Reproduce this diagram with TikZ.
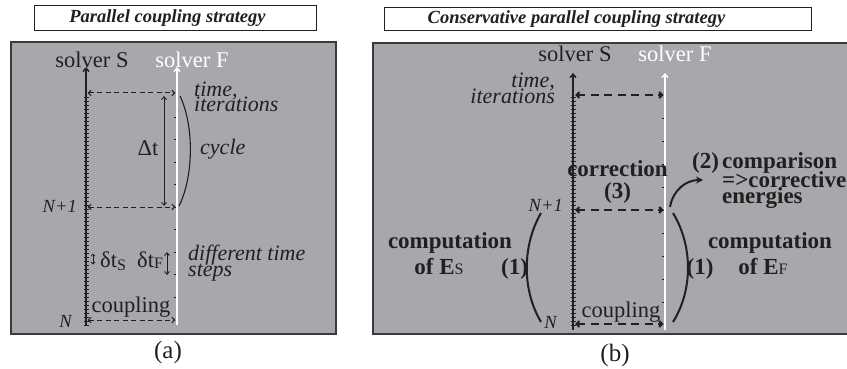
\documentclass[tikz,border=0pt]{standalone}
\usepackage{fontspec}
\setmainfont{Liberation Serif}
\usetikzlibrary{arrows.meta}
\definecolor{panelgray}{HTML}{A7A8AB}
\definecolor{ink}{HTML}{231F20}
\definecolor{frame}{HTML}{3A3A3A}
\newcommand\fsz[1]{\fontsize{#1}{#1}\selectfont}
\begin{document}
\begin{tikzpicture}[x=1pt,y=-1pt,
  txt/.style={inner sep=0pt, text=ink},
  big/.style={txt,font=\fsz{22.5}},
  ital/.style={txt,font=\fsz{22}\itshape},
  smallit/.style={txt,font=\fsz{18.5}\itshape},
  bld/.style={txt,font=\fsz{23}\bfseries},
  ttl/.style={txt,font=\fsz{18.5}\bfseries\itshape},
  capt/.style={txt,font=\fsz{25}},
  panel/.style={fill=panelgray, draw=frame, line width=1.3pt},
  titlebox/.style={draw=ink, fill=white, line width=0.9pt},
  axisS/.style={draw=ink, line width=1.4pt, -{Straight Barb[length=3.5pt,width=6pt]}},
  axisF/.style={draw=white, line width=1.4pt, -{Straight Barb[length=3.5pt,width=6pt]}},
  tick/.style={draw=ink, line width=0.7pt},
  dashA/.style={draw=ink, line width=1pt, dash pattern=on 5pt off 3.5pt,
     {Straight Barb[length=3pt,width=5.5pt]}-{Straight Barb[length=3pt,width=5.5pt]}},
  dashB/.style={draw=ink, line width=2pt, dash pattern=on 8pt off 5.5pt,
     {Straight Barb[length=3pt,width=6pt]}-{Straight Barb[length=3pt,width=6pt]}},
  thinarr/.style={draw=ink, line width=0.9pt,
     {Straight Barb[length=3pt,width=5pt]}-{Straight Barb[length=3pt,width=5pt]}},
  brace/.style={draw=ink, line width=1.1pt},
  bbrace/.style={draw=ink, line width=2pt},
]
\useasboundingbox (0,0) rectangle (847,369);

% ---------------- panel (a) ----------------
\node[titlebox, minimum width=282pt, minimum height=25pt, inner sep=0pt] (aTitleBox) at (175,17.5) {};
\node[ttl, anchor=base] (aTitle) at (167.5,23) {Parallel coupling strategy};
\draw[panel] (11,42) rectangle (336,334);

\coordinate (aS0) at (86,325);
\coordinate (aS1) at (86,67);
\coordinate (aF0) at (177,325);
\coordinate (aF1) at (177,67);
\foreach \y in {97,101,...,325} \draw[tick] (83.5,\y) -- (88.5,\y);
\foreach \k in {1,...,9} \draw[tick] (173.5,{94.5+22.5*\k}) -- (176,{94.5+22.5*\k});
\draw[axisS] (aS0) -- (aS1);
\draw[axisF] (aF0) -- (aF1);

\coordinate (aTopL) at (87.5,93);
\coordinate (aTopR) at (175.5,93);
\coordinate (aMidL) at (87.5,207);
\coordinate (aMidR) at (175.5,207);
\coordinate (aBotL) at (87.5,320);
\coordinate (aBotR) at (175.5,320);
\draw[dashA] (aTopL) -- (aTopR);
\draw[dashA] (aMidL) -- (aMidR);
\draw[dashA] (aBotL) -- (aBotR);

\coordinate (aDtTop) at (164,96);
\coordinate (aDtBot) at (164,206);
\draw[thinarr] (aDtTop) -- (aDtBot);
\coordinate (aCycTop) at (180,96);
\coordinate (aCycBot) at (179,206);
\draw[brace] (aCycTop) .. controls (194,125) and (194,176) .. (aCycBot);

\coordinate (aSsT) at (93,253.5);
\coordinate (aSsB) at (93,264.5);
\draw[draw=ink, line width=0.8pt, {Straight Barb[length=2pt,width=4pt]}-{Straight Barb[length=2pt,width=4pt]}] (aSsT) -- (aSsB);
\coordinate (aFsT) at (167,252);
\coordinate (aFsB) at (167,275);
\draw[thinarr] (aFsT) -- (aFsB);

\node[big, anchor=base] (aSlab) at (92,68) {solver S};
\node[big, anchor=base, text=white] (aFlab) at (192,68) {solver F};
\node[ital, anchor=base west] (aTime1) at (194,96) {time,};
\node[ital, anchor=base west] (aTime2) at (194,111) {iterations};
\node[big, anchor=base] (aDt) at (148,155) {Δt};
\node[ital, anchor=base west] (aCycle) at (200,154) {cycle};
\node[smallit, anchor=base east] (aN1) at (77,212) {N+1};
\node[smallit, anchor=base east] (aN) at (72,327) {N};
\node[big, anchor=base west] (aDts) at (100,267) {δt\raisebox{-3pt}{\fsz{16}S}};
\node[big, anchor=base west] (aDtf) at (137,267) {δt\raisebox{-1pt}{\fsz{16}F}};
\node[ital, anchor=base west] (aDiff1) at (188,260) {different time};
\node[ital, anchor=base west] (aDiff2) at (188,276) {steps};
\node[big, anchor=base] (aCoup) at (131,312) {coupling};
\node[capt, anchor=base] (aCap) at (168,358) {(a)};

% ---------------- panel (b) ----------------
\node[titlebox, minimum width=427pt, minimum height=23pt, inner sep=0pt] (bTitleBox) at (597.5,18.5) {};
\node[ttl, anchor=base] (bTitle) at (576.5,24) {Conservative parallel coupling strategy};
\draw[panel] (373,43) rectangle (852,334);

\coordinate (bS0) at (573,330);
\coordinate (bS1) at (573,73);
\coordinate (bF0) at (665,330);
\coordinate (bF1) at (665,73);
\foreach \y in {97,101,...,327} \draw[tick] (570.5,\y) -- (575.5,\y);
\foreach \k in {1,...,9} \draw[tick] (661.5,{95+23*\k}) -- (664,{95+23*\k});
\draw[axisS] (bS0) -- (bS1);
\draw[axisF] (bF0) -- (bF1);

\coordinate (bTopL) at (575,95);
\coordinate (bTopR) at (663.5,95);
\coordinate (bMidL) at (575,210);
\coordinate (bMidR) at (663.5,210);
\coordinate (bBotL) at (575,324);
\coordinate (bBotR) at (663.5,324);
\draw[dashB] (bTopL) -- (bTopR);
\draw[dashB] (bMidL) -- (bMidR);
\draw[dashB] (bBotL) -- (bBotR);

\coordinate (bLT) at (541,213);
\coordinate (bLB) at (541,322);
\draw[bbrace] (bLT) .. controls (522,246) and (522,290) .. (bLB);
\coordinate (bRT) at (673,213);
\coordinate (bRB) at (673,322);
\draw[bbrace] (bRT) .. controls (693,246) and (693,290) .. (bRB);

\coordinate (bArrS) at (670,207);
\coordinate (bArrE) at (703,180);
\draw[draw=ink, line width=2pt, -{Stealth[length=7pt,width=7pt]}] (bArrS) .. controls (673,190) and (686,180) .. (bArrE);

\node[big, anchor=base] (bSlab) at (575,62) {solver S};
\node[big, anchor=base, text=white] (bFlab) at (675,62) {solver F};
\node[ital, anchor=base east] (bTime1) at (555,88) {time,};
\node[ital, anchor=base east] (bTime2) at (555,103) {iterations};
\node[bld, anchor=base] (bCorr) at (617.5,176) {correction};
\node[bld, anchor=base] (bThree) at (617.5,198) {(3)};
\node[bld, anchor=base west] (bTwo) at (692,168) {(2)};
\node[bld, anchor=base west] (bComp1) at (722,168) {comparison};
\node[bld, anchor=base west] (bComp2) at (722,187) {=>corrective};
\node[bld, anchor=base west] (bComp3) at (722,203) {energies};
\node[smallit, anchor=base east] (bN1) at (563,211) {N+1};
\node[smallit, anchor=base east] (bN) at (557,328) {N};
\node[bld, anchor=base] (bCompS1) at (450,248) {computation};
\node[bld, anchor=base] (bCompS2) at (439,274) {of E{\mdseries\fsz{16}S}};
\node[bld, anchor=base] (bOneL) at (514.5,274) {(1)};
\node[bld, anchor=base] (bOneR) at (700,274) {(1)};
\node[bld, anchor=base] (bCompF1) at (770,248) {computation};
\node[bld, anchor=base] (bCompF2) at (763,274) {of E{\mdseries\fsz{16}F}};
\node[big, anchor=base] (bCoup) at (621,317) {coupling};
\node[capt, anchor=base] (bCap) at (615,361) {(b)};
\end{tikzpicture}
\end{document}
